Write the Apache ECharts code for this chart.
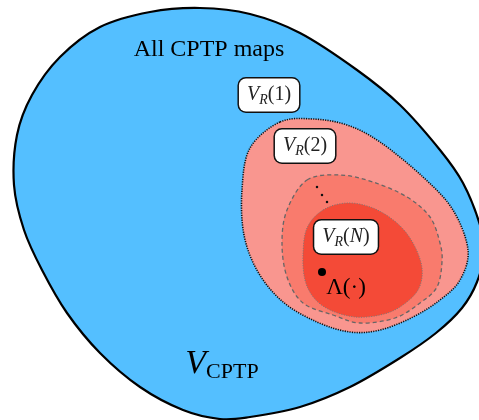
<!DOCTYPE html>
<html><head><meta charset="utf-8">
<script src="https://cdn.jsdelivr.net/npm/echarts@6/dist/echarts.min.js"></script>
<style>html,body{margin:0;padding:0;background:#fff}#c{width:479px;height:420px}</style>
</head><body><div id="c"></div>
<script>
// Region outlines (x, y in picture units)
const outerBlob = [[200,8],[250,14],[300,33],[357,70],[400,105],[440,150],[463,183],[480,225],[484,252],[477,282],[462,308],[436,333],[400,358],[350,387],[300,407],[250,417],[220,419],[183,410],[140,387],[100,353],[67,313],[42,270],[24,230],[14,185],[17,135],[32,95],[60,57],[100,27],[150,12]];
const vr2Blob = [[280,122],[313,119],[347,125],[380,142],[423,177],[453,210],[468,250],[460,280],[440,300],[413,317],[380,330],[350,332],[317,322],[283,302],[258,272],[244,235],[242,190],[250,148]];
const vrMidBlob = [[307,180],[340,175],[373,182],[407,197],[430,217],[440,243],[442,262],[437,287],[420,303],[395,318],[360,323],[333,315],[303,303],[287,277],[282,243],[287,210]];
const vrNBlob = [[323,210],[347,203],[373,208],[397,223],[413,243],[422,268],[418,290],[400,307],[380,315],[355,317],[330,310],[314,298],[305,280],[303,255],[307,228]];
const ellipsisDots = [[317,187],[322,195],[327,202]];
const channelPoint = [[322,272]];
const boxLabels = ['1','2','N'];
const boxPositions = [[269,95],[305,146],[346,237]];
const titleText = 'All CPTP maps';
const titlePos = [209,50];
const lambdaText = 'Λ(·)';
const lambdaPos = [346,288];
const vcptpPos = [222,364];

const chart = echarts.init(document.getElementById('c'));
function closedCurvePath(pts) {
  const n = pts.length, f = v => v.toFixed(2);
  let d = 'M' + f(pts[0][0]) + ' ' + f(pts[0][1]);
  for (let i = 0; i < n; i++) {
    const p0 = pts[(i - 1 + n) % n], p1 = pts[i], p2 = pts[(i + 1) % n], p3 = pts[(i + 2) % n];
    const c1 = [p1[0] + (p2[0] - p0[0]) / 6, p1[1] + (p2[1] - p0[1]) / 6];
    const c2 = [p2[0] - (p3[0] - p1[0]) / 6, p2[1] - (p3[1] - p1[1]) / 6];
    d += 'C' + f(c1[0]) + ' ' + f(c1[1]) + ' ' + f(c2[0]) + ' ' + f(c2[1]) + ' ' + f(p2[0]) + ' ' + f(p2[1]);
  }
  return d + 'Z';
}
function blob(points, fill, stroke, width, dash, z) {
  return {
    type: 'custom', coordinateSystem: 'cartesian2d', z: z, silent: true, clip: false,
    data: [points[0]],
    renderItem: function (params, api) {
      const pts = points.map(p => api.coord(p));
      return { type: 'path', shape: { pathData: closedCurvePath(pts) },
        style: { fill: fill, stroke: stroke, lineWidth: width, lineDash: dash } };
    }
  };
}
const serif = 'Liberation Serif';
function textSeries(pos, formatter, rich, z, size) {
  return { type: 'scatter', symbolSize: 0, z: z, silent: true,
    itemStyle: { opacity: 1 },
    data: [pos],
    label: { show: true, position: 'inside', formatter: formatter, rich: rich,
      fontFamily: serif, fontSize: size, color: '#000', opacity: 1 } };
}
const option = {
  animation: false,
  grid: { left: 0, right: 0, top: 0, bottom: 0 },
  xAxis: { type: 'value', min: 0, max: 479, show: false },
  yAxis: { type: 'value', min: 0, max: 420, inverse: true, show: false },
  series: [
    blob(outerBlob, '#54bfff', '#000', 2.2, null, 1),
    blob(vr2Blob, '#f9968f', '#111', 1.6, [1.2, 1.2], 2),
    blob(vrMidBlob, '#f97b6d', '#666', 1.3, [4, 3], 3),
    blob(vrNBlob, '#f44a37', '#777', 1, [1, 1.5], 4),
    { type: 'scatter', z: 5, silent: true, symbolSize: 2.5, itemStyle: { color: '#111', opacity: 1 }, data: ellipsisDots },
    { type: 'scatter', z: 5, silent: true, symbolSize: 8, itemStyle: { color: '#000', opacity: 1 }, data: channelPoint },
    { type: 'scatter', z: 6, silent: true, symbolSize: 0, itemStyle: { opacity: 1 },
      data: boxPositions.map((p, i) => ({ value: p, name: boxLabels[i] })),
      label: { show: true, position: 'inside', opacity: 1,
        formatter: function (p) {
          const n = p.name === 'N' ? '{i|N}' : '{n|' + p.name + '}';
          return '{v|V}{s|R}{n|(}' + n + '{n|)}';
        },
        backgroundColor: '#fff', borderColor: '#111', borderWidth: 1.5, borderRadius: 7,
        padding: [4, 8, 4, 8],
        rich: {
          v: { fontFamily: serif, fontStyle: 'italic', fontSize: 20, lineHeight: 25, color: '#222' },
          s: { fontFamily: serif, fontStyle: 'italic', fontSize: 14, lineHeight: 16, verticalAlign: 'bottom', color: '#222' },
          n: { fontFamily: serif, fontSize: 20, lineHeight: 25, color: '#222' },
          i: { fontFamily: serif, fontStyle: 'italic', fontSize: 20, lineHeight: 25, color: '#222' }
        } } },
    textSeries(titlePos, titleText, null, 7, 24),
    textSeries(lambdaPos, lambdaText, null, 7, 23),
    textSeries(vcptpPos, '{v|V}{s|CPTP}', {
      v: { fontFamily: serif, fontStyle: 'italic', fontSize: 34, lineHeight: 38, color: '#000' },
      s: { fontFamily: serif, fontSize: 22, lineHeight: 22, verticalAlign: 'bottom', color: '#000' }
    }, 7, 22)
  ]
};
chart.setOption(option);
</script></body></html>
